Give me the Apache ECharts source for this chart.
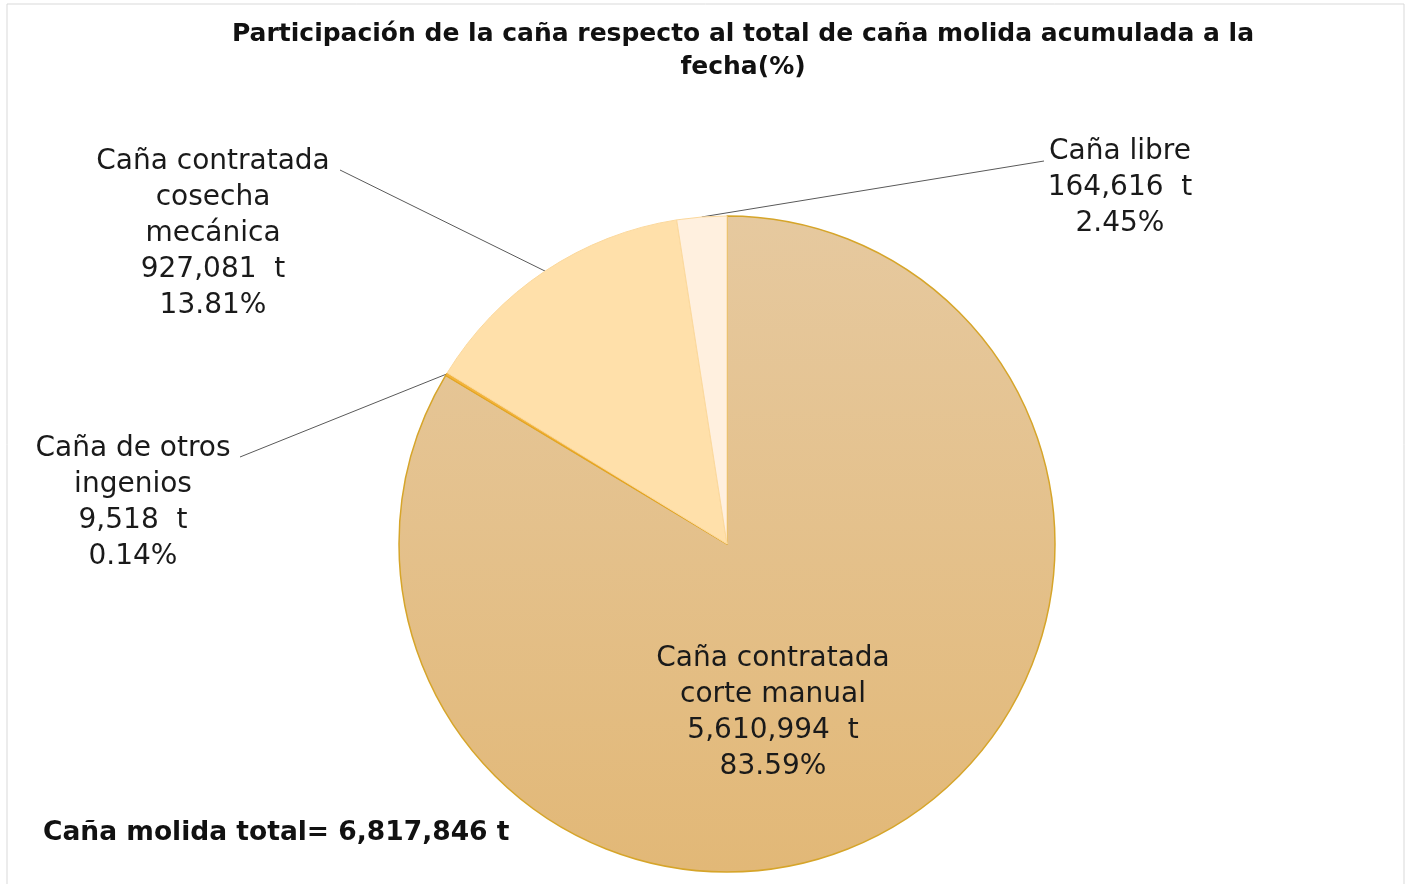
<!DOCTYPE html>
<html>
<head>
<meta charset="utf-8">
<script src="https://cdn.jsdelivr.net/npm/echarts@6/dist/echarts.min.js"></script>
<style>
  html, body { margin: 0; padding: 0; background: #fff; }
  #cane-share-chart { width: 1408px; height: 884px; }
</style>
</head>
<body>
<div id="cane-share-chart"></div>
<script>
// slices, clockwise from 12 o'clock
const names = [
  "Caña contratada\ncorte manual",
  "Caña de otros\ningenios",
  "Caña contratada\ncosecha\nmecánica",
  "Caña libre"
];
const tons = [5610994, 9518, 927081, 164616];
const percents = ["83.59%", "0.14%", "13.81%", "2.45%"];
const totalTons = 6817846;

const colors = ["#e4c18b", "#f2b43c", "#ffe0aa", "#fff0df"];
// label anchor (center x, top y) for each slice
const labelPos = [[773, 641], [133, 431], [213, 144], [1120, 134]];
// where the leader line meets the label
const lineEnds = [null, [240, 457], [340, 170], [1044, 161]];

const fontFamily = "DejaVu Sans";
const fmt = n => n.toLocaleString("en-US");

const chart = echarts.init(document.getElementById("cane-share-chart"));

const pieData = names.map((name, i) => ({
  name: name,
  value: tons[i],
  itemStyle: i === 0
    ? {
        color: new echarts.graphic.LinearGradient(0, 0, 0, 1, [
          { offset: 0, color: "#e6c99f" },
          { offset: 1, color: "#e2b877" }
        ]),
        borderColor: "#d6a52a",
        borderWidth: 1.5
      }
    : { color: colors[i], borderColor: i === 1 ? "#e8a520" : "#fbd89c", borderWidth: 1 },
  label: i === 0 ? { position: "inside" } : { position: "outside" },
  labelLine: { show: i !== 0 }
}));

chart.setOption({
  animation: false,
  title: {
    text: "Participación de la caña respecto al total de caña molida acumulada a la\nfecha(%)",
    left: 738,
    top: 13,
    textAlign: "center",
    textStyle: {
      fontFamily: fontFamily,
      fontWeight: "bold",
      fontSize: 25,
      lineHeight: 33,
      color: "#111"
    }
  },
  graphic: [
    {
      type: "rect",
      shape: { x: 7, y: 4, width: 1397, height: 886 },
      style: { fill: "none", stroke: "#d9d9d9", lineWidth: 1 },
      silent: true
    },
    {
      type: "text",
      left: 43,
      top: 820,
      style: {
        text: "Caña molida total= " + fmt(totalTons) + " t",
        fontFamily: fontFamily,
        fontWeight: "bold",
        fontSize: 26.5,
        fill: "#111"
      }
    }
  ],
  series: [
    {
      type: "pie",
      center: [727, 544],
      radius: 328,
      startAngle: 90,
      clockwise: true,
      data: pieData,
      label: {
        show: true,
        formatter: p => p.name + "\n" + fmt(tons[p.dataIndex]) + "  t\n" + percents[p.dataIndex],
        fontFamily: fontFamily,
        fontSize: 28,
        lineHeight: 36,
        color: "#1a1a1a",
        align: "center"
      },
      labelLine: {
        show: true,
        length: 20,
        length2: 10,
        lineStyle: { color: "#595959", width: 1 }
      },
      labelLayout: p => {
        const i = p.dataIndex;
        const pos = labelPos[i];
        const out = { x: pos[0], y: pos[1], align: "center", verticalAlign: "top" };
        if (lineEnds[i] && p.labelLinePoints) {
          const start = p.labelLinePoints[0];
          out.labelLinePoints = [start, lineEnds[i], lineEnds[i]];
        }
        return out;
      },
      emphasis: { disabled: true }
    }
  ]
});
</script>
</body>
</html>
